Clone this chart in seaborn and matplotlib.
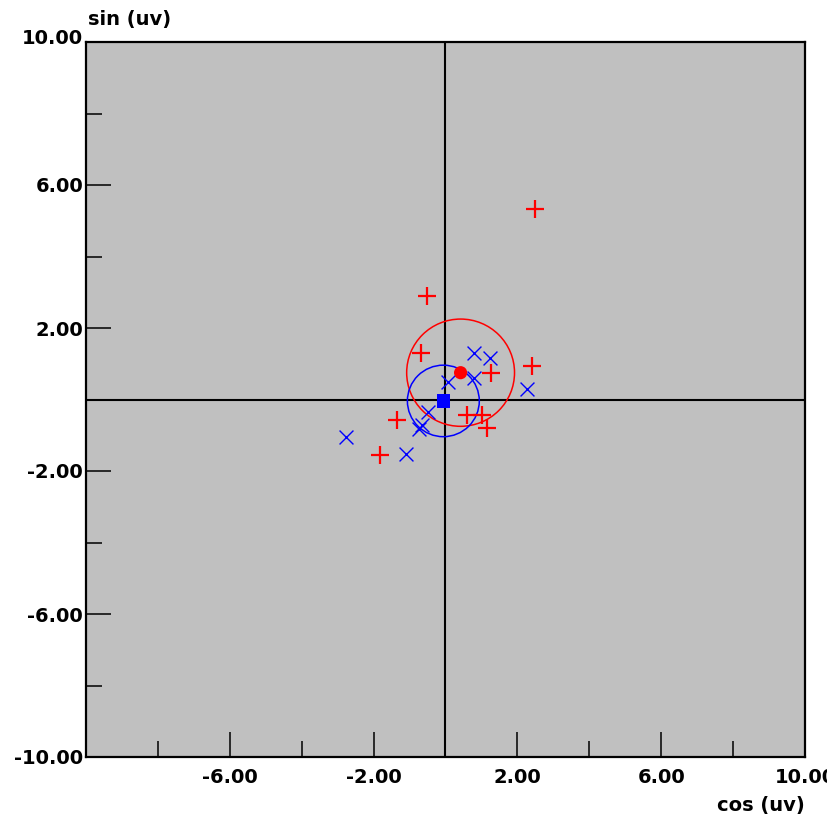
import matplotlib
matplotlib.use("Agg")
import matplotlib.pyplot as plt
from matplotlib.patches import Circle
from matplotlib.transforms import ScaledTranslation
import seaborn as sns
import pandas as pd

# Red "+" series (cos, sin components in uV)
red_cos = [2.48, -0.52, -0.69, 1.26, 2.40, -1.36, -1.82, 0.61, 1.01, 1.15]
red_sin = [5.33, 2.89, 1.29, 0.73, 0.94, -0.57, -1.55, -0.43, -0.43, -0.81]

# Blue "x" series
blue_cos = [0.79, 1.24, 0.79, 0.08, 2.26, -0.48, -0.75, -0.66, -2.77, -1.10]
blue_sin = [1.29, 1.15, 0.59, 0.50, 0.29, -0.34, -0.82, -0.70, -1.04, -1.52]

# Group means and confidence circle radii
red_mean = (0.42, 0.75)
blue_mean = (-0.06, -0.04)
red_radius = 1.50
blue_radius = 1.00

x_major = [-6, -2, 2, 6, 10]
x_minor = [-8, -4, 4, 8]
y_major = [10, 6, 2, -2, -6, -10]
y_minor = [8, 4, -4, -8]

red_df = pd.DataFrame({"cos": red_cos, "sin": red_sin})
blue_df = pd.DataFrame({"cos": blue_cos, "sin": blue_sin})

sns.set_theme(style="white")
plt.rcParams["font.family"] = ["DejaVu Sans"]
plt.rcParams["text.color"] = "black"

fig = plt.figure(figsize=(8.28, 8.25), dpi=100)
ax = fig.add_axes([86 / 828, 68 / 825, 719 / 828, 715 / 825])
ax.set_facecolor("#c0c0c0")
ax.set_xlim(-10, 10)
ax.set_ylim(-10, 10)

# zero axes
ax.axhline(0, color="black", lw=1.5, zorder=1)
ax.axvline(0, color="black", lw=1.5, zorder=1)

# circles around means
ax.add_patch(Circle(red_mean, red_radius, fill=False, ec="#ff0000", lw=1.1, zorder=2))
ax.add_patch(Circle(blue_mean, blue_radius, fill=False, ec="#0000ff", lw=1.1, zorder=2))

sns.scatterplot(data=red_df, x="cos", y="sin", marker="+", s=170, color="#ff0000",
                linewidth=1.6, ax=ax, zorder=3)
sns.scatterplot(data=blue_df, x="cos", y="sin", marker="x", s=100, color="#0000ff",
                linewidth=1.0, ax=ax, zorder=3)

ax.scatter([red_mean[0]], [red_mean[1]], marker="o", s=90, color="#ff0000",
           edgecolors="none", zorder=4)
ax.scatter([blue_mean[0]], [blue_mean[1]], marker="s", s=95, color="#0000ff",
           edgecolors="none", zorder=4)

ax.set_xlabel("")
ax.set_ylabel("")

for s in ax.spines.values():
    s.set_visible(True)
    s.set_color("black")
    s.set_linewidth(1.6)

ax.set_xticks(x_major)
ax.set_xticks(x_minor, minor=True)
ax.set_yticks(y_major)
ax.set_yticks(y_minor, minor=True)
ax.set_xticklabels([f"{v:.2f}" for v in x_major], fontweight="bold", fontsize=14,
                   color="black")
ax.set_yticklabels([f"{v:.2f}" for v in y_major], fontweight="bold", fontsize=14,
                   color="black")

ax.tick_params(axis="both", which="major", direction="in", length=18, width=1.1,
               color="black", labelcolor="black")
ax.tick_params(axis="both", which="minor", direction="in", length=11.5, width=1.1,
               color="black")
ax.tick_params(axis="x", which="major", pad=8, top=False)
ax.tick_params(axis="y", which="major", pad=2, right=False)
ax.tick_params(axis="both", which="minor", top=False, right=False)
ax.tick_params(axis="x", which="both", bottom=True)
ax.tick_params(axis="y", which="both", left=True)

# top label sits a little above the corner
top_label = ax.get_yticklabels()[0]
top_label.set_transform(top_label.get_transform() +
                        ScaledTranslation(0, 4 / 72, fig.dpi_scale_trans))

fig.text(88 / 828, 1 - 20 / 825, "sin (uv)", fontsize=14, fontweight="bold",
         color="black", ha="left", va="center")
fig.text(805 / 828, 1 - 806 / 825, "cos (uv)", fontsize=14, fontweight="bold",
         color="black", ha="right", va="center")

fig.savefig("out.png", dpi=100, facecolor="white")
